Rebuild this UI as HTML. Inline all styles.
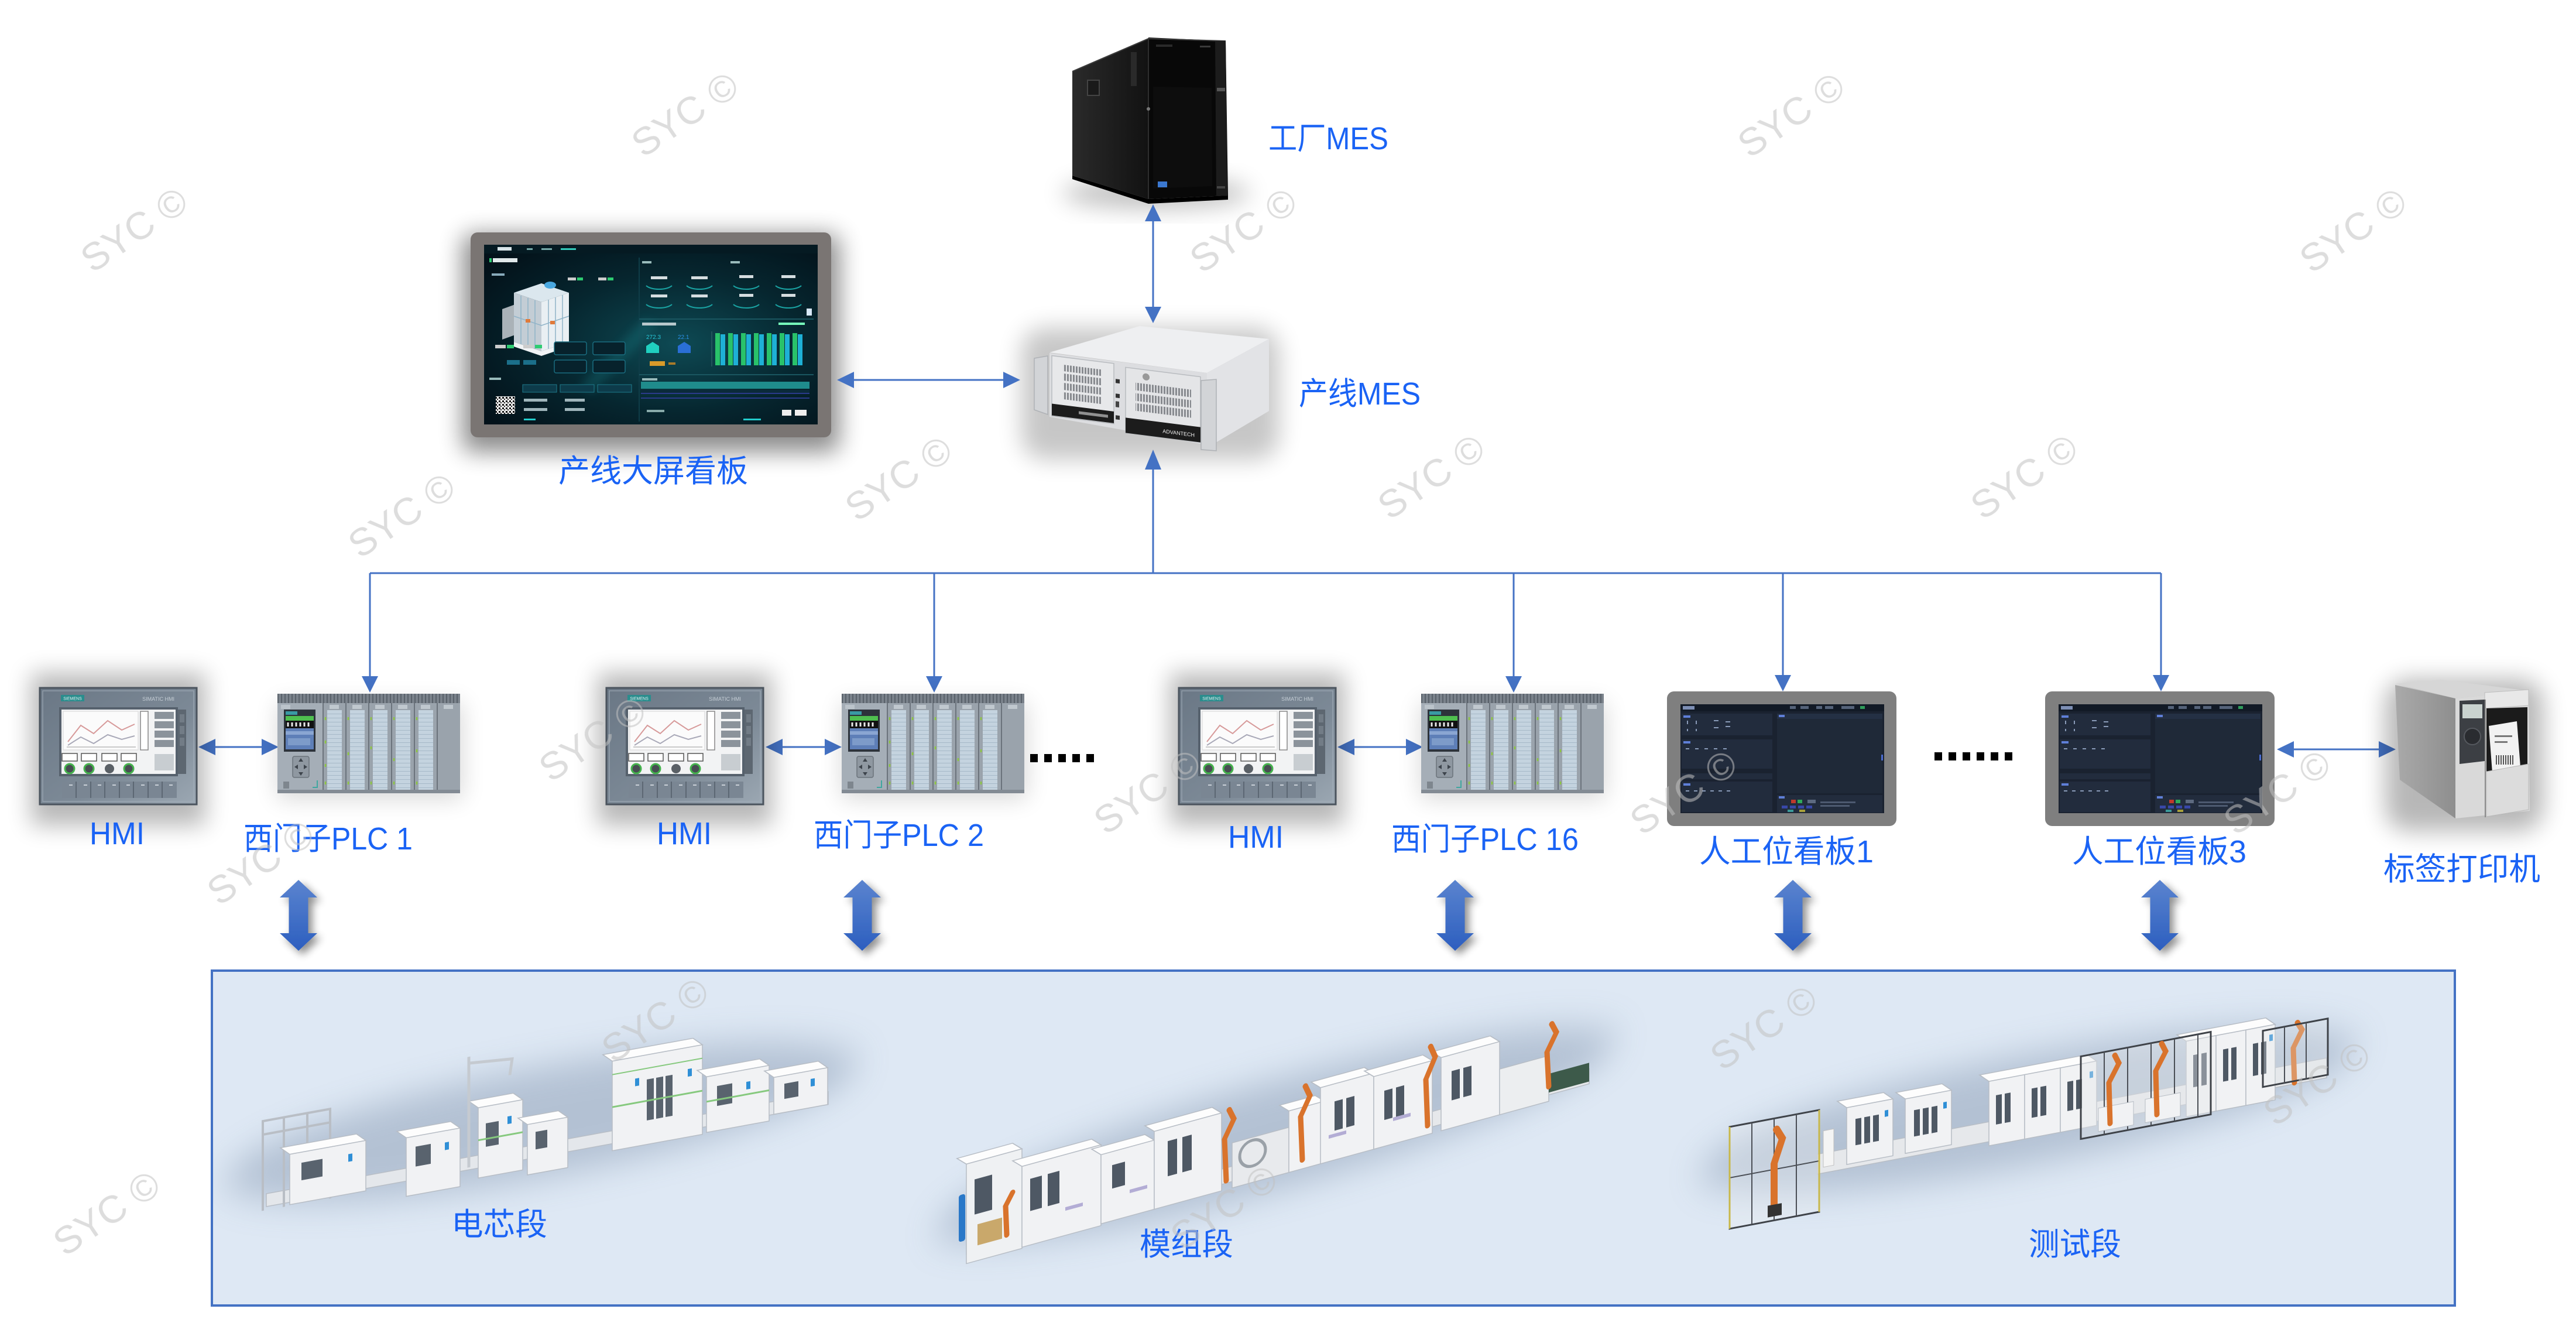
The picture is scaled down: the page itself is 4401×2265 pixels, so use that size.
<!DOCTYPE html>
<html>
<head>
<meta charset="utf-8">
<style>
html,body{margin:0;padding:0;background:#ffffff;}
body{width:4401px;height:2265px;overflow:hidden;}
svg{display:block;}
</style>
</head>
<body>
<svg xmlns="http://www.w3.org/2000/svg" width="4401" height="2265" viewBox="0 0 4401 2265" font-family="'Liberation Sans','Noto Sans CJK SC',sans-serif">
<defs>
  <linearGradient id="fat" x1="0" y1="0" x2="0" y2="1">
    <stop offset="0" stop-color="#5b84cf"/><stop offset="1" stop-color="#2c5ebf"/>
  </linearGradient>
  <linearGradient id="hmiF" x1="0" y1="0" x2="1" y2="1">
    <stop offset="0" stop-color="#6a7785"/><stop offset=".6" stop-color="#7d8a97"/><stop offset="1" stop-color="#9ca8b3"/>
  </linearGradient>
  <linearGradient id="towerSide" x1="0" y1="0" x2="1" y2="0">
    <stop offset="0" stop-color="#2a2a2a"/><stop offset="1" stop-color="#121212"/>
  </linearGradient>
  <linearGradient id="prnSide" x1="0" y1="0" x2="1" y2="0">
    <stop offset="0" stop-color="#aaaaaa"/><stop offset="1" stop-color="#8e8e8e"/>
  </linearGradient>
  <radialGradient id="dashBg" cx=".58" cy=".55" r=".7">
    <stop offset="0" stop-color="#0e4a54"/><stop offset=".55" stop-color="#06262f"/><stop offset="1" stop-color="#03121a"/>
  </radialGradient>
  <pattern id="vent" width="5" height="20" patternUnits="userSpaceOnUse"><rect width="3" height="20" fill="#85888d"/></pattern>
  <pattern id="ridge" width="6" height="16" patternUnits="userSpaceOnUse"><rect width="6" height="16" fill="#7a828b"/><rect width="2" height="16" fill="#59616a"/></pattern>
  <pattern id="plcStrip" width="10" height="7" patternUnits="userSpaceOnUse"><rect width="10" height="7" fill="#c4d3df"/><rect y="6" width="10" height="1" fill="#a6b9c8"/></pattern>
  <pattern id="qr" width="6" height="6" patternUnits="userSpaceOnUse"><rect width="6" height="6" fill="#f0f0f0"/><rect width="3" height="3" fill="#111"/><rect x="3" y="3" width="2" height="2" fill="#222"/></pattern>
  <pattern id="barcode" width="4" height="10" patternUnits="userSpaceOnUse"><rect width="4" height="10" fill="#f2f2f2"/><rect width="2" height="10" fill="#555"/></pattern>
  <clipPath id="boxClip"><rect x="364" y="1660" width="3828" height="568"/></clipPath>
  <filter id="blur8" x="-50%" y="-50%" width="200%" height="200%"><feGaussianBlur stdDeviation="8"/></filter>
  <filter id="blur20" x="-50%" y="-50%" width="200%" height="200%"><feGaussianBlur stdDeviation="20"/></filter>
  <filter id="blur30" x="-50%" y="-80%" width="200%" height="260%"><feGaussianBlur stdDeviation="30"/></filter>
  <filter id="ds" x="-40%" y="-20%" width="190%" height="150%">
    <feGaussianBlur in="SourceAlpha" stdDeviation="7"/>
    <feOffset dx="7" dy="7"/>
    <feComponentTransfer><feFuncA type="linear" slope="0.45"/></feComponentTransfer>
    <feMerge><feMergeNode/><feMergeNode in="SourceGraphic"/></feMerge>
  </filter>

  <g id="fatArrow" filter="url(#ds)">
    <polygon points="0,0 32,30 16.5,30 16.5,91 32,91 0,121 -32,91 -16.5,91 -16.5,30 -32,30" fill="url(#fat)"/>
  </g>

  <g id="hmi">
    <rect x="0" y="0" width="268" height="199" fill="url(#hmiF)" stroke="#4b545e" stroke-width="3"/>
    <rect x="5" y="5" width="258" height="189" fill="none" stroke="#a3aeb9" stroke-width="1.5" opacity=".7"/>
    <rect x="36" y="12" width="40" height="11" fill="#2a8d8d"/>
    <text x="56" y="20.5" font-size="7" fill="#e8f4f4" text-anchor="middle">SIEMENS</text>
    <text x="230" y="22" font-size="9" fill="#c6ced6" text-anchor="end">SIMATIC HMI</text>
    <rect x="33" y="33" width="203" height="118" fill="#56616d"/>
    <rect x="37" y="37" width="195" height="110" fill="#f2f3f4"/>
    <rect x="40" y="40" width="128" height="66" fill="#fbfbfb" stroke="#d6d6d6"/>
    <polyline points="48,92 70,64 92,78 116,56 140,72 162,62" fill="none" stroke="#d79a9a" stroke-width="2"/>
    <polyline points="48,98 70,84 92,95 116,80 140,88 162,82" fill="none" stroke="#a9a9b8" stroke-width="2"/>
    <line x1="46" y1="101" x2="164" y2="101" stroke="#999" stroke-width="1"/>
    <rect x="172" y="40" width="13" height="66" fill="#fff" stroke="#888" stroke-width="1.5"/>
    <rect x="196" y="41" width="33" height="12" fill="#8b939b"/>
    <rect x="196" y="57" width="33" height="12" fill="#8b939b"/>
    <rect x="196" y="73" width="33" height="12" fill="#8b939b"/>
    <rect x="196" y="89" width="33" height="12" fill="#8b939b"/>
    <rect x="38" y="112" width="26" height="13" fill="#fff" stroke="#555" stroke-width="1.5"/>
    <rect x="71" y="112" width="26" height="13" fill="#fff" stroke="#555" stroke-width="1.5"/>
    <rect x="106" y="112" width="26" height="13" fill="#fff" stroke="#555" stroke-width="1.5"/>
    <rect x="139" y="112" width="26" height="13" fill="#fff" stroke="#555" stroke-width="1.5"/>
    <circle cx="51" cy="138" r="8" fill="#474d52" stroke="#45b34d" stroke-width="3"/>
    <circle cx="84" cy="138" r="8" fill="#474d52" stroke="#45b34d" stroke-width="3"/>
    <circle cx="119" cy="138" r="8" fill="#5a6066"/>
    <circle cx="152" cy="138" r="8" fill="#474d52" stroke="#45b34d" stroke-width="3"/>
    <rect x="196" y="113" width="33" height="28" fill="#c8cdd1"/>
    <rect x="236" y="37" width="14" height="110" fill="#5d6771"/>
    <rect x="239" y="45" width="8" height="14" fill="#727c86"/>
    <rect x="239" y="65" width="8" height="14" fill="#727c86"/>
    <rect x="239" y="85" width="8" height="14" fill="#727c86"/>
    <rect x="38" y="160" width="196" height="28" fill="#7a8693"/>
    <path d="M62 160 V188 M87 160 V188 M111 160 V188 M136 160 V188 M160 160 V188 M185 160 V188 M209 160 V188" stroke="#5c6773" stroke-width="2"/>
    <path d="M50 166 h6 M75 166 h6 M99 166 h6 M124 166 h6 M148 166 h6 M173 166 h6 M197 166 h6 M221 166 h6" stroke="#c9d0d7" stroke-width="2"/>
  </g>

  <g id="plc">
    <rect x="0" y="6" width="312" height="164" fill="#9aa3ac"/>
    <rect x="0" y="0" width="312" height="16" fill="url(#ridge)"/>
    <rect x="0" y="16" width="77" height="154" fill="#a5aeb7"/>
    <rect x="6" y="19" width="16" height="7" fill="#bcc4cb"/>
    <rect x="11" y="27" width="54" height="72" fill="#2d333b"/>
    <rect x="14" y="30" width="20" height="6" fill="#3a9aa3"/>
    <rect x="14" y="38" width="48" height="8" fill="#4fbf4f"/>
    <rect x="14" y="46" width="48" height="13" fill="#111"/>
    <path d="M18 49 v7 M25 49 v7 M32 49 v7 M39 49 v7 M46 49 v7 M53 49 v7" stroke="#e8e8e8" stroke-width="3"/>
    <rect x="14" y="59" width="48" height="36" fill="#5e7fb8"/>
    <rect x="14" y="64" width="48" height="6" fill="#8aa6d2"/>
    <rect x="18" y="76" width="38" height="12" fill="#7d9bc9"/>
    <rect x="26" y="107" width="28" height="36" rx="3" fill="#8f98a1" stroke="#6b737b" stroke-width="1.5"/>
    <path d="M40 110 l-4 6 h8 z M40 140 l-4 -6 h8 z M29 125 l6 -4 v8 z M51 125 l-6 -4 v8 z" fill="#3d444c"/>
    <rect x="10" y="150" width="10" height="12" fill="#7e868e"/>
    <path d="M60 160 h8 v-12" stroke="#3fa7a0" stroke-width="2" fill="none"/>
    <rect x="77" y="16" width="2" height="154" fill="#6b737c"/>
    <rect x="116" y="16" width="2" height="154" fill="#6b737c"/>
    <rect x="155" y="16" width="2" height="154" fill="#6b737c"/>
    <rect x="194" y="16" width="2" height="154" fill="#6b737c"/>
    <rect x="233" y="16" width="2" height="154" fill="#6b737c"/>
    <rect x="272" y="16" width="2" height="154" fill="#6b737c"/>
    <rect x="85" y="28" width="25" height="136" fill="url(#plcStrip)"/>
    <rect x="124" y="28" width="25" height="136" fill="url(#plcStrip)"/>
    <rect x="163" y="28" width="25" height="136" fill="url(#plcStrip)"/>
    <rect x="202" y="28" width="25" height="136" fill="url(#plcStrip)"/>
    <rect x="241" y="28" width="25" height="136" fill="url(#plcStrip)"/>
    <rect x="89" y="19" width="16" height="7" fill="#c0c8cf"/>
    <rect x="128" y="19" width="16" height="7" fill="#c0c8cf"/>
    <rect x="167" y="19" width="16" height="7" fill="#c0c8cf"/>
    <rect x="206" y="19" width="16" height="7" fill="#c0c8cf"/>
    <rect x="245" y="19" width="16" height="7" fill="#c0c8cf"/>
    <rect x="284" y="19" width="16" height="7" fill="#c0c8cf"/>
    <path d="M82 40 v5 M82 80 v5 M82 120 v5 M82 150 v5 M121 40 v5 M121 100 v5 M121 150 v5 M160 40 v5 M160 90 v5 M160 150 v5 M199 40 v5 M199 110 v5 M199 150 v5 M238 40 v5 M238 95 v5 M238 150 v5" stroke="#8cc63f" stroke-width="2.5"/>
    <rect x="0" y="164" width="312" height="6" fill="#838b94"/>
  </g>

  <g id="board">
    <rect x="0" y="0" width="392" height="230" rx="12" fill="#7f7f7f"/>
    <rect x="23" y="22" width="348" height="186" fill="#1a2230"/>
    <rect x="23" y="22" width="348" height="12" fill="#121a26"/>
    <rect x="27" y="25" width="20" height="6" fill="#7d8fb5"/>
    <rect x="210" y="25" width="10" height="5" fill="#55637a"/>
    <rect x="228" y="25" width="14" height="5" fill="#55637a"/>
    <rect x="255" y="25" width="10" height="5" fill="#55637a"/>
    <rect x="270" y="25" width="14" height="5" fill="#55637a"/>
    <rect x="298" y="25" width="22" height="5" fill="#55637a"/>
    <rect x="330" y="25" width="8" height="5" fill="#2e9e5b"/>
    <rect x="25" y="38" width="155" height="37" fill="#222c3d"/>
    <rect x="25" y="82" width="155" height="50" fill="#222c3d"/>
    <rect x="25" y="140" width="155" height="10" fill="#222c3d"/>
    <rect x="25" y="154" width="155" height="52" fill="#222c3d"/>
    <rect x="28" y="41" width="12" height="4" fill="#5f7fd8"/>
    <rect x="28" y="85" width="12" height="4" fill="#5f7fd8"/>
    <rect x="28" y="157" width="12" height="4" fill="#5f7fd8"/>
    <path d="M35 50 v6 M50 50 v6 M35 64 v4 M50 64 v4 M80 50 h8 M100 52 h8 M100 60 h8 M80 62 h8" stroke="#8a9bb8" stroke-width="2"/>
    <path d="M32 98 h6 M48 98 h6 M64 98 h6 M80 98 h6 M96 98 h6 M32 170 h6 M46 170 h6 M60 170 h6 M74 170 h6 M88 170 h6 M102 170 h6" stroke="#8a9bb8" stroke-width="2"/>
    <rect x="188" y="38" width="180" height="136" fill="#1f2938"/>
    <rect x="188" y="38" width="180" height="9" fill="#243044"/>
    <rect x="191" y="40" width="10" height="4" fill="#5f7fd8"/>
    <rect x="188" y="177" width="180" height="30" fill="#222c3d"/>
    <rect x="191" y="179" width="10" height="4" fill="#5f7fd8"/>
    <rect x="212" y="185" width="8" height="6" fill="#c0392b"/>
    <rect x="223" y="185" width="8" height="6" fill="#2eaa5a"/>
    <rect x="240" y="185" width="14" height="6" fill="#5d6a80"/>
    <rect x="196" y="195" width="10" height="5" fill="#3848a8"/>
    <rect x="210" y="195" width="10" height="5" fill="#3848a8"/>
    <rect x="224" y="195" width="10" height="5" fill="#3848a8"/>
    <rect x="238" y="195" width="10" height="5" fill="#3848a8"/>
    <rect x="206" y="202" width="10" height="4" fill="#3a9a9a"/>
    <rect x="226" y="202" width="10" height="4" fill="#a9a03a"/>
    <rect x="262" y="188" width="60" height="3" fill="#4d5a70"/>
    <rect x="262" y="194" width="50" height="3" fill="#4d5a70"/>
    <rect x="366" y="108" width="3" height="10" fill="#4a6cd1"/>
  </g>
</defs>

<!-- ================= Tower server (工厂MES) ================= -->
<g>
  <ellipse cx="1975" cy="330" rx="160" ry="26" fill="#000" opacity=".25" filter="url(#blur20)"/>
  <polygon points="1832,122 1962,66 1962,340 1832,300" fill="url(#towerSide)"/>
  <polygon points="1962,64 2094,70 2098,334 1962,340" fill="#080808"/>
  <polyline points="1832,122 1962,66 2094,70" fill="none" stroke="#3c3c3c" stroke-width="2"/>
  <line x1="1962" y1="66" x2="1962" y2="340" stroke="#2e2e2e" stroke-width="2"/>
  <polygon points="2076,70 2094,70 2097,334 2078,335" fill="#1c1c1c"/>
  <rect x="2079" y="150" width="14" height="6" fill="#555"/>
  <rect x="2079" y="318" width="14" height="4" fill="#444"/>
  <polygon points="1970,148 2070,150 2071,318 1970,322" fill="#0d0d0d"/>
  <rect x="1975" y="76" width="28" height="4" fill="#2a2a2a"/>
  <rect x="2050" y="78" width="18" height="3" fill="#3a3a3a"/>
  <rect x="1978" y="310" width="16" height="10" fill="#3b78d0"/>
  <rect x="1858" y="137" width="20" height="26" fill="#1a1a1a" stroke="#444" stroke-width="2"/>
  <rect x="1932" y="89" width="10" height="58" fill="#2a2a2a"/>
  <circle cx="1962" cy="186" r="3" fill="#777"/>
  <polygon points="1832,300 1962,340 2098,334 2098,341 1962,348 1832,306" fill="#000"/>
</g>

<!-- ================= Rack server (产线MES) ================= -->
<g>
  <rect x="1745" y="560" width="440" height="225" rx="40" fill="#000" opacity=".22" filter="url(#blur20)"/>
  <polygon points="1793,602 1947,557 2168,579 2062,637" fill="#eeeff1"/>
  <polygon points="2062,637 2168,579 2168,702 2062,765" fill="#e2e3e6"/>
  <g transform="translate(1793,603) skewY(7.2)">
    <polygon points="0,0 269,0 269,123 0,109" fill="#dcdde0"/>
    <rect x="4" y="4" width="106" height="103" fill="#e7e8ea" stroke="#b8bbbf" stroke-width="1.5"/>
    <rect x="23" y="17" width="65" height="11" fill="url(#vent)"/>
    <rect x="23" y="32" width="65" height="12" fill="url(#vent)"/>
    <rect x="23" y="48" width="65" height="12" fill="url(#vent)"/>
    <rect x="23" y="64" width="65" height="12" fill="url(#vent)"/>
    <rect x="4" y="86" width="106" height="20" fill="#1c1c1c"/>
    <rect x="50" y="93" width="50" height="5" fill="#ddd" opacity=".6"/>
    <rect x="113" y="30" width="7" height="7" fill="#333"/>
    <rect x="113" y="55" width="7" height="7" fill="#333"/>
    <rect x="113" y="68" width="6" height="10" fill="#444"/>
    <rect x="113" y="92" width="7" height="7" fill="#333"/>
    <rect x="130" y="8" width="128" height="112" fill="#e4e5e7" stroke="#b8bbbf" stroke-width="1.5"/>
    <circle cx="165" cy="20" r="6" fill="#999"/>
    <rect x="147" y="32" width="95" height="13" fill="url(#vent)"/>
    <rect x="147" y="50" width="95" height="13" fill="url(#vent)"/>
    <rect x="147" y="67" width="95" height="13" fill="url(#vent)"/>
    <rect x="130" y="94" width="128" height="26" fill="#1c1c1c"/>
    <text x="248" y="112" font-size="9" fill="#eeeeee" text-anchor="end">ADVANTECH</text>
  </g>
  <polygon points="1767,612 1790,608 1790,708 1767,700" fill="#d2d4d7" stroke="#aeb1b5" stroke-width="1.5"/>
  <polygon points="2052,650 2078,648 2078,770 2052,768" fill="#d2d4d7" stroke="#aeb1b5" stroke-width="1.5"/>
</g>

<!-- ================= Dashboard (产线大屏看板) ================= -->
<g>
  <rect x="790" y="400" width="644" height="372" rx="16" fill="#000" opacity=".45" filter="url(#blur20)"/>
  <rect x="804" y="397" width="616" height="350" rx="12" fill="#7a7573"/>
  <rect x="827" y="418" width="570" height="307" fill="url(#dashBg)"/>
  <rect x="827" y="418" width="570" height="15" fill="#051a22"/>
  <rect x="850" y="422" width="24" height="6" fill="#d8e4e8"/>
  <rect x="900" y="424" width="10" height="3" fill="#7aa"/>
  <rect x="925" y="424" width="18" height="3" fill="#7aa"/>
  <rect x="958" y="424" width="26" height="3" fill="#3cb"/>
  <rect x="836" y="441" width="4" height="7" fill="#2ecc71"/>
  <rect x="842" y="441" width="42" height="7" fill="#e0e8ea"/>
  <rect x="1097" y="446" width="16" height="4" fill="#9bb"/>
  <rect x="1248" y="446" width="16" height="4" fill="#9bb"/>
  <line x1="1092" y1="440" x2="1092" y2="720" stroke="#0f3d48" stroke-width="2"/>
  <line x1="1092" y1="545" x2="1390" y2="545" stroke="#1a5660" stroke-width="2"/>
  <line x1="1092" y1="640" x2="1390" y2="640" stroke="#1a5660" stroke-width="2"/>
  <polygon points="990,660 1100,545 1125,555 1012,672" fill="#1c9aa0" opacity=".22" filter="url(#blur8)"/>
  <polygon points="858,528 880,520 880,572 858,580" fill="#aab2b8"/>
  <polygon points="878,500 925,484 972,500 925,516" fill="#dbe7ee"/>
  <polygon points="878,500 925,516 925,600 878,584" fill="#c3cdd5"/>
  <polygon points="925,516 972,500 972,584 925,600" fill="#e9eff3"/>
  <path d="M890 505 V588 M902 509 V592 M914 513 V596 M937 512 V596 M949 508 V592 M961 504 V588 M878 540 L925 556 L972 540" stroke="#8fb3c8" stroke-width="1.5" fill="none"/>
  <rect x="898" y="545" width="8" height="6" fill="#e07a3a"/>
  <rect x="940" y="548" width="8" height="6" fill="#e07a3a"/>
  <ellipse cx="940" cy="487" rx="10" ry="6" fill="#4aa8e0"/>
  <polygon points="878,584 925,600 972,584 972,592 925,608 878,592" fill="#f0f3f5"/>
  <rect x="840" y="467" width="22" height="4" fill="#8ab"/>
  <rect x="970" y="474" width="14" height="5" fill="#ccc"/><rect x="986" y="474" width="10" height="5" fill="#2ecc71"/>
  <rect x="1022" y="474" width="14" height="5" fill="#ccc"/><rect x="1038" y="474" width="10" height="5" fill="#2ecc71"/>
  <rect x="846" y="589" width="18" height="6" fill="#cccccc"/><rect x="866" y="589" width="12" height="6" fill="#2ecc71"/>
  <rect x="894" y="589" width="18" height="6" fill="#cccccc"/><rect x="914" y="589" width="12" height="6" fill="#2ecc71"/>
  <rect x="866" y="615" width="22" height="8" fill="#1b6f8a"/><rect x="894" y="615" width="22" height="8" fill="#1b6f8a"/>
  <rect x="947" y="584" width="55" height="22" rx="3" fill="#07222c" stroke="#1a6d80" stroke-width="1.5"/>
  <rect x="1013" y="584" width="55" height="22" rx="3" fill="#07222c" stroke="#1a6d80" stroke-width="1.5"/>
  <rect x="947" y="615" width="55" height="22" rx="3" fill="#07222c" stroke="#1a6d80" stroke-width="1.5"/>
  <rect x="1013" y="615" width="55" height="22" rx="3" fill="#07222c" stroke="#1a6d80" stroke-width="1.5"/>
  <g stroke="#1aa3a3" stroke-width="2" fill="none">
    <path d="M1104 488 a24 10 0 0 0 44 0"/><path d="M1173 488 a24 10 0 0 0 44 0"/>
    <path d="M1253 488 a24 10 0 0 0 44 0"/><path d="M1325 488 a24 10 0 0 0 44 0"/>
    <path d="M1104 520 a24 10 0 0 0 44 0"/><path d="M1173 520 a24 10 0 0 0 44 0"/>
    <path d="M1253 520 a24 10 0 0 0 44 0"/><path d="M1325 520 a24 10 0 0 0 44 0"/>
  </g>
  <g fill="#d5dde0">
    <rect x="1112" y="472" width="28" height="5"/><rect x="1181" y="472" width="28" height="5"/>
    <rect x="1263" y="470" width="24" height="5"/><rect x="1335" y="470" width="24" height="5"/>
    <rect x="1112" y="503" width="28" height="5"/><rect x="1181" y="503" width="28" height="5"/>
    <rect x="1263" y="502" width="24" height="5"/><rect x="1335" y="502" width="24" height="5"/>
  </g>
  <rect x="1378" y="527" width="9" height="12" fill="#d8e8f8"/>
  <rect x="1097" y="551" width="58" height="5" fill="#b8c8cc"/>
  <rect x="1330" y="551" width="45" height="4" fill="#7fb"/>
  <g fill="#29c26a">
    <rect x="1222" y="569" width="8" height="55"/><rect x="1244" y="569" width="8" height="55"/>
    <rect x="1266" y="569" width="8" height="55"/><rect x="1288" y="569" width="8" height="55"/>
    <rect x="1310" y="569" width="8" height="55"/><rect x="1332" y="569" width="8" height="55"/>
    <rect x="1354" y="569" width="8" height="55"/>
  </g>
  <g fill="#1eb0d6">
    <rect x="1231" y="571" width="8" height="53"/><rect x="1253" y="571" width="8" height="53"/>
    <rect x="1275" y="571" width="8" height="53"/><rect x="1297" y="571" width="8" height="53"/>
    <rect x="1319" y="571" width="8" height="53"/><rect x="1341" y="571" width="8" height="53"/>
    <rect x="1363" y="571" width="8" height="53"/>
  </g>
  <line x1="1216" y1="566" x2="1216" y2="626" stroke="#3a6a70" stroke-width="1"/>
  <text x="1104" y="579" font-size="10" fill="#27c6d6">272.3</text>
  <text x="1158" y="579" font-size="10" fill="#2a8fe6">22.1</text>
  <polygon points="1104,591 1115,584 1126,591 1126,603 1104,603" fill="#20d0c0"/>
  <polygon points="1158,591 1169,584 1180,591 1180,603 1158,603" fill="#2a6fd6"/>
  <rect x="1110" y="617" width="26" height="8" fill="#d89a2a"/>
  <rect x="1142" y="619" width="12" height="4" fill="#a87a2a"/>
  <rect x="1097" y="646" width="26" height="4" fill="#9bb"/>
  <rect x="1095" y="652" width="288" height="12" fill="#1f8c8c"/>
  <rect x="1095" y="666" width="288" height="5" fill="#0b2a3a"/>
  <rect x="1095" y="671" width="288" height="2" fill="#2a3a8a"/>
  <rect x="1095" y="679" width="288" height="2" fill="#2a3a8a"/>
  <rect x="1105" y="700" width="30" height="4" fill="#8aa"/>
  <rect x="1336" y="700" width="16" height="10" fill="#eeeeee"/>
  <rect x="1358" y="700" width="20" height="10" fill="#eeeeee"/>
  <rect x="836" y="645" width="20" height="4" fill="#9bb"/>
  <rect x="893" y="657" width="58" height="13" fill="#0d3b4a" stroke="#1e7b8c"/>
  <rect x="957" y="657" width="58" height="13" fill="#0d3b4a" stroke="#1e7b8c"/>
  <rect x="1021" y="657" width="58" height="13" fill="#0d3b4a" stroke="#1e7b8c"/>
  <rect x="847" y="677" width="33" height="30" fill="url(#qr)"/>
  <rect x="895" y="681" width="40" height="5" fill="#9fb5bb"/><rect x="965" y="681" width="34" height="5" fill="#9fb5bb"/>
  <rect x="895" y="697" width="40" height="5" fill="#9fb5bb"/><rect x="965" y="697" width="34" height="5" fill="#9fb5bb"/>
  <rect x="895" y="715" width="20" height="3" fill="#2cc"/><rect x="1270" y="715" width="30" height="3" fill="#2cc"/>
</g>

<!-- ================= Thin connectors ================= -->
<g stroke="#4472c4" stroke-width="3" fill="none">
  <line x1="1970" y1="376" x2="1970" y2="526"/>
  <line x1="1456" y1="649" x2="1717" y2="649"/>
  <line x1="1970" y1="979" x2="1970" y2="800"/>
  <line x1="632" y1="979" x2="3692" y2="979"/>
  <line x1="632" y1="979" x2="632" y2="1157"/>
  <line x1="1596" y1="979" x2="1596" y2="1157"/>
  <line x1="2586" y1="979" x2="2586" y2="1157"/>
  <line x1="3046" y1="979" x2="3046" y2="1155"/>
  <line x1="3692" y1="979" x2="3692" y2="1155"/>
  <line x1="366" y1="1276" x2="449" y2="1276"/>
  <line x1="1335" y1="1276" x2="1411" y2="1276"/>
  <line x1="2312" y1="1276" x2="2404" y2="1276"/>
  <line x1="3917" y1="1280" x2="4066" y2="1280"/>
</g>
<g fill="#4472c4">
  <polygon points="1970,349 1956,378 1984,378"/>
  <polygon points="1970,552 1956,524 1984,524"/>
  <polygon points="1430,649 1459,635 1459,663"/>
  <polygon points="1743,649 1714,635 1714,663"/>
  <polygon points="1970,768 1956,802 1984,802"/>
  <polygon points="632,1183 618,1155 646,1155"/>
  <polygon points="1596,1183 1582,1155 1610,1155"/>
  <polygon points="2586,1183 2572,1155 2600,1155"/>
  <polygon points="3046,1181 3032,1153 3060,1153"/>
  <polygon points="3692,1181 3678,1153 3706,1153"/>
  <polygon points="339,1276 368,1262 368,1290"/>
  <polygon points="476,1276 447,1262 447,1290"/>
  <polygon points="1308,1276 1337,1262 1337,1290"/>
  <polygon points="1438,1276 1409,1262 1409,1290"/>
  <polygon points="2285,1276 2314,1262 2314,1290"/>
  <polygon points="2431,1276 2402,1262 2402,1290"/>
  <polygon points="3890,1280 3919,1266 3919,1294"/>
  <polygon points="4093,1280 4064,1266 4064,1294"/>
</g>

<!-- ================= HMIs and PLCs ================= -->
<rect x="53" y="1150" width="298" height="260" fill="#000" opacity=".28" filter="url(#blur20)"/>
<rect x="1021" y="1150" width="298" height="260" fill="#000" opacity=".28" filter="url(#blur20)"/>
<rect x="1999" y="1150" width="298" height="260" fill="#000" opacity=".28" filter="url(#blur20)"/>
<rect x="474" y="1200" width="316" height="165" fill="#000" opacity=".15" filter="url(#blur20)"/>
<rect x="1438" y="1200" width="316" height="165" fill="#000" opacity=".15" filter="url(#blur20)"/>
<rect x="2427" y="1200" width="316" height="165" fill="#000" opacity=".15" filter="url(#blur20)"/>
<use href="#hmi" x="68" y="1175"/>
<use href="#hmi" x="1036" y="1175"/>
<use href="#hmi" x="2014" y="1175"/>
<use href="#plc" x="474" y="1185"/>
<use href="#plc" x="1438" y="1185"/>
<use href="#plc" x="2428" y="1185"/>

<!-- ================= Boards ================= -->
<use href="#board" x="2848" y="1181"/>
<use href="#board" x="3494" y="1181"/>

<g fill="#000">
  <rect x="1760" y="1288" width="13" height="14"/><rect x="1784" y="1288" width="13" height="14"/>
  <rect x="1808" y="1288" width="13" height="14"/><rect x="1832" y="1288" width="13" height="14"/>
  <rect x="1856" y="1288" width="13" height="14"/>
  <rect x="3305" y="1285" width="13" height="14"/><rect x="3329" y="1285" width="13" height="14"/>
  <rect x="3353" y="1285" width="13" height="14"/><rect x="3377" y="1285" width="13" height="14"/>
  <rect x="3401" y="1285" width="13" height="14"/><rect x="3425" y="1285" width="13" height="14"/>
</g>

<!-- ================= Printer ================= -->
<g>
  <rect x="4075" y="1160" width="270" height="260" rx="40" fill="#000" opacity=".28" filter="url(#blur20)"/>
  <polygon points="4092,1170 4195,1193 4195,1398 4100,1332" fill="url(#prnSide)"/>
  <polygon points="4092,1168 4170,1161 4320,1180 4195,1193" fill="#d6d6d6"/>
  <polygon points="4195,1193 4320,1180 4322,1385 4195,1398" fill="#d9d9d9"/>
  <polygon points="4245,1183 4320,1178 4320,1205 4245,1210" fill="#e8e8e8" stroke="#bdbdbd"/>
  <polygon points="4202,1197 4245,1195 4245,1300 4202,1305" fill="#3c3f44"/>
  <rect x="4207" y="1203" width="34" height="24" fill="#c9d2cf"/>
  <circle cx="4224" cy="1258" r="14" fill="#2a2c30" stroke="#55585e" stroke-width="2"/>
  <polygon points="4248,1210 4318,1208 4318,1305 4248,1318" fill="#1b1b1b"/>
  <polygon points="4252,1240 4300,1232 4306,1310 4258,1320" fill="#f2f2f2"/>
  <rect x="4262" y="1290" width="34" height="16" fill="url(#barcode)"/>
  <rect x="4262" y="1256" width="30" height="3" fill="#777"/>
  <rect x="4262" y="1266" width="22" height="3" fill="#777"/>
  <polygon points="4248,1318 4320,1305 4320,1383 4248,1395" fill="#dcdcdc" stroke="#b8b8b8"/>
  <line x1="4246" y1="1195" x2="4246" y2="1396" stroke="#8a8a8a" stroke-width="2"/>
</g>

<!-- ================= Fat arrows ================= -->
<use href="#fatArrow" x="510" y="1503"/>
<use href="#fatArrow" x="1473" y="1503"/>
<use href="#fatArrow" x="2486" y="1503"/>
<use href="#fatArrow" x="3063" y="1503"/>
<use href="#fatArrow" x="3690" y="1503"/>

<!-- ================= Bottom box ================= -->
<rect x="362" y="1658" width="3832" height="572" fill="#dee8f4" stroke="#4472c4" stroke-width="4"/>

<g clip-path="url(#boxClip)">
<!-- Line 1 电芯段 -->
<g transform="translate(455,2057) skewY(-10.3)">
  <ellipse cx="470" cy="-55" rx="540" ry="95" fill="#6f84a0" opacity=".38" filter="url(#blur30)"/>
  <rect x="0" y="-18" width="960" height="22" fill="#e4e7eb" stroke="#b8bec6" stroke-width="1.5"/>
  <path d="M-6 10 V-143 H109 V10 M30 -143 V10 M-6 -120 H109 M70 -143 V-20" stroke="#b9bec5" stroke-width="4" fill="none"/>
  <g stroke="#b7bdc5" stroke-width="1.5">
    <polygon points="40,-78 170,-78 154,-92 24,-92" fill="#fdfdfd"/>
    <rect x="40" y="-78" width="130" height="86" fill="#f1f2f4"/>
    <polygon points="239,-70 331,-70 315,-84 223,-84" fill="#fdfdfd"/>
    <rect x="239" y="-70" width="92" height="100" fill="#f1f2f4"/>
    <polygon points="362,-99 438,-99 422,-113 346,-113" fill="#fdfdfd"/>
    <rect x="362" y="-99" width="76" height="120" fill="#f1f2f4"/>
    <polygon points="446,-55 515,-55 499,-69 430,-69" fill="#fdfdfd"/>
    <rect x="446" y="-55" width="69" height="86" fill="#f1f2f4"/>
    <polygon points="591,-137 745,-137 729,-151 575,-151" fill="#fdfdfd"/>
    <rect x="591" y="-137" width="154" height="153" fill="#f1f2f4"/>
    <polygon points="752,-81 859,-81 843,-95 736,-95" fill="#fdfdfd"/>
    <rect x="752" y="-81" width="107" height="95" fill="#f1f2f4"/>
    <polygon points="867,-59 959,-59 943,-73 851,-73" fill="#fdfdfd"/>
    <rect x="867" y="-59" width="92" height="63" fill="#f1f2f4"/>
  </g>
  <g fill="#59636e">
    <rect x="60" y="-60" width="36" height="30"/><rect x="255" y="-52" width="26" height="34"/>
    <rect x="375" y="-70" width="22" height="40"/><rect x="460" y="-40" width="20" height="30"/>
    <rect x="650" y="-95" width="12" height="70"/><rect x="666" y="-95" width="12" height="70"/><rect x="682" y="-95" width="12" height="70"/>
    <rect x="770" y="-62" width="26" height="34"/><rect x="885" y="-45" width="24" height="26"/>
  </g>
  <g fill="#2f8fd6">
    <rect x="140" y="-60" width="7" height="13"/><rect x="305" y="-50" width="7" height="13"/>
    <rect x="412" y="-75" width="7" height="13"/><rect x="630" y="-100" width="7" height="13"/>
    <rect x="720" y="-100" width="7" height="13"/><rect x="820" y="-60" width="7" height="13"/><rect x="930" y="-45" width="7" height="13"/>
  </g>
  <g fill="#86c97e">
    <rect x="362" y="-45" width="76" height="3"/><rect x="591" y="-60" width="154" height="3"/>
    <rect x="752" y="-40" width="107" height="3"/><rect x="591" y="-115" width="154" height="2"/>
  </g>
  <path d="M346 0 V-189 M346 -178 L420 -172 L416 -145" stroke="#c5cad0" stroke-width="5" fill="none"/>
</g>

<!-- Line 2 模组段 -->
<g transform="translate(1700,2125) skewY(-15.3)">
  <ellipse cx="480" cy="-55" rx="580" ry="95" fill="#6f84a0" opacity=".38" filter="url(#blur30)"/>
  <rect x="-49" y="-22" width="1064" height="26" fill="#e6e8eb" stroke="#b8bec6" stroke-width="1.5"/>
  <g stroke="#b7bdc5" stroke-width="1.5">
    <polygon points="-49,-150 46,-150 30,-164 -65,-164" fill="#fdfdfd"/>
    <rect x="-49" y="-150" width="95" height="170" fill="#eff1f3"/>
    <polygon points="46,-120 181,-120 165,-134 30,-134" fill="#fdfdfd"/>
    <rect x="46" y="-120" width="135" height="138" fill="#f1f2f4"/>
    <polygon points="181,-103 272,-103 256,-117 165,-117" fill="#fdfdfd"/>
    <rect x="181" y="-103" width="91" height="118" fill="#f1f2f4"/>
    <polygon points="272,-118 387,-118 371,-132 256,-132" fill="#fdfdfd"/>
    <rect x="272" y="-118" width="115" height="133" fill="#f1f2f4"/>
    <rect x="405" y="-62" width="97" height="77" fill="#e8eaed"/>
    <polygon points="502,-90 563,-90 547,-104 486,-104" fill="#fdfdfd"/>
    <rect x="502" y="-90" width="61" height="105" fill="#f1f2f4"/>
    <polygon points="556,-115 647,-115 631,-129 540,-129" fill="#fdfdfd"/>
    <rect x="556" y="-115" width="91" height="130" fill="#f1f2f4"/>
    <polygon points="647,-109 747,-109 731,-123 631,-123" fill="#fdfdfd"/>
    <rect x="647" y="-109" width="100" height="124" fill="#f1f2f4"/>
    <polygon points="762,-110 862,-110 846,-124 746,-124" fill="#fdfdfd"/>
    <rect x="762" y="-110" width="100" height="125" fill="#f1f2f4"/>
    <rect x="862" y="-63" width="84" height="78" fill="#eceef0"/>
  </g>
  <rect x="946" y="-32" width="69" height="32" fill="#3d5a4a"/>
  <g fill="#4e5864">
    <rect x="-35" y="-120" width="30" height="60"/><rect x="60" y="-95" width="20" height="55"/><rect x="90" y="-95" width="20" height="55"/>
    <rect x="200" y="-80" width="22" height="40"/><rect x="295" y="-95" width="16" height="60"/><rect x="320" y="-95" width="16" height="60"/>
    <rect x="580" y="-85" width="14" height="50"/><rect x="600" y="-85" width="14" height="50"/>
    <rect x="665" y="-80" width="14" height="50"/><rect x="685" y="-80" width="14" height="50"/>
    <rect x="780" y="-82" width="14" height="50"/><rect x="800" y="-82" width="14" height="50"/>
  </g>
  <g fill="#8a7fc0" opacity=".6">
    <rect x="120" y="-30" width="30" height="6"/><rect x="230" y="-30" width="30" height="6"/><rect x="570" y="-30" width="30" height="6"/><rect x="680" y="-30" width="30" height="6"/>
  </g>
  <circle cx="440" cy="-35" r="22" fill="none" stroke="#9aa1a8" stroke-width="5"/>
  <g stroke="#d9732c" stroke-width="9" fill="none" stroke-linecap="round">
    <path d="M395 0 L392 -72 L408 -102 L400 -120"/>
    <path d="M525 0 L522 -75 L538 -106 L530 -125"/>
    <path d="M739 0 L736 -80 L752 -114 L744 -134"/>
    <path d="M946 -10 L943 -70 L959 -99 L951 -116"/>
    <path d="M20 -10 L18 -60 L30 -80"/>
  </g>
  <rect x="-62" y="-100" width="11" height="80" rx="4" fill="#2a78c8"/>
  <rect x="-30" y="-42" width="42" height="36" fill="#c9a86b"/>
</g>

<!-- Line 3 测试段 -->
<g transform="translate(2965,2020) skewY(-10.7)">
  <ellipse cx="500" cy="-30" rx="560" ry="95" fill="#6f84a0" opacity=".38" filter="url(#blur30)"/>
  <rect x="140" y="-22" width="870" height="34" fill="#e6e8eb" stroke="#b8bec6" stroke-width="1.5"/>
  <rect x="-10" y="-97" width="153" height="174" fill="#eceff2" fill-opacity=".35" stroke="#3e4248" stroke-width="3"/>
  <path d="M28 -97 V77 M66 -97 V77 M104 -97 V77 M-10 -10 H143" stroke="#4a4e55" stroke-width="2"/>
  <path d="M-10 -97 V77 M143 -97 V77" stroke="#c8b84a" stroke-width="3"/>
  <path d="M66 60 L66 -20 L80 -60 L70 -78" stroke="#d9732c" stroke-width="12" fill="none" stroke-linecap="round"/>
  <rect x="55" y="50" width="24" height="20" fill="#333"/>
  <rect x="150" y="-60" width="18" height="62" fill="#f4f4f4" stroke="#c0c0c0"/>
  <g stroke="#b7bdc5" stroke-width="1.5">
    <polygon points="190,-92 269,-92 253,-106 174,-106" fill="#fdfdfd"/>
    <rect x="190" y="-92" width="79" height="97" fill="#f1f2f4"/>
    <polygon points="290,-88 369,-88 353,-102 274,-102" fill="#fdfdfd"/>
    <rect x="290" y="-88" width="79" height="93" fill="#f1f2f4"/>
    <polygon points="433,-91 617,-91 601,-105 417,-105" fill="#fdfdfd"/>
    <rect x="433" y="-91" width="61" height="110" fill="#f1f2f4"/>
    <rect x="494" y="-91" width="61" height="110" fill="#f1f2f4"/>
    <rect x="555" y="-91" width="62" height="110" fill="#f1f2f4"/>
    <polygon points="770,-96 922,-96 906,-110 754,-110" fill="#fdfdfd"/>
    <rect x="770" y="-96" width="51" height="129" fill="#f1f2f4"/>
    <rect x="821" y="-96" width="51" height="129" fill="#f1f2f4"/>
    <rect x="872" y="-96" width="50" height="129" fill="#f1f2f4"/>
  </g>
  <g fill="#4e5864">
    <rect x="205" y="-70" width="10" height="45"/><rect x="220" y="-70" width="10" height="45"/><rect x="235" y="-70" width="10" height="45"/>
    <rect x="305" y="-66" width="10" height="45"/><rect x="320" y="-66" width="10" height="45"/><rect x="335" y="-66" width="10" height="45"/>
    <rect x="445" y="-65" width="10" height="50"/><rect x="460" y="-65" width="10" height="50"/>
    <rect x="506" y="-65" width="10" height="50"/><rect x="521" y="-65" width="10" height="50"/>
    <rect x="567" y="-65" width="10" height="50"/><rect x="582" y="-65" width="10" height="50"/>
    <rect x="782" y="-70" width="9" height="55"/><rect x="796" y="-70" width="9" height="55"/>
    <rect x="833" y="-70" width="9" height="55"/><rect x="847" y="-70" width="9" height="55"/>
    <rect x="884" y="-70" width="9" height="55"/><rect x="898" y="-70" width="9" height="55"/>
  </g>
  <g fill="#2f8fd6">
    <rect x="255" y="-75" width="6" height="11"/><rect x="355" y="-70" width="6" height="11"/><rect x="605" y="-75" width="6" height="11"/><rect x="912" y="-80" width="6" height="11"/>
  </g>
  <rect x="590" y="-104" width="222" height="141" fill="#e6e9ec" fill-opacity=".4" stroke="#3e4248" stroke-width="3"/>
  <path d="M630 -104 V37 M670 -104 V37 M710 -104 V37 M750 -104 V37 M790 -104 V37" stroke="#4a4e55" stroke-width="2"/>
  <rect x="620" y="-10" width="60" height="40" fill="#f1f2f4" stroke="#b7bdc5"/>
  <rect x="700" y="-10" width="60" height="40" fill="#f1f2f4" stroke="#b7bdc5"/>
  <g stroke="#d9732c" stroke-width="9" fill="none" stroke-linecap="round">
    <path d="M640 20 L638 -50 L655 -80 L648 -95"/>
    <path d="M720 20 L718 -55 L735 -85 L728 -100"/>
    <path d="M955 10 L953 -50 L968 -78 L960 -92"/>
  </g>
  <rect x="901" y="-89" width="111" height="96" fill="#e6e9ec" fill-opacity=".3" stroke="#3e4248" stroke-width="3"/>
  <path d="M938 -89 V7 M975 -89 V7" stroke="#4a4e55" stroke-width="2"/>
</g>
</g>

<!-- ================= Labels ================= -->
<g fill="#1a63f5" font-size="54">
  <text x="2167" y="255" textLength="205" lengthAdjust="spacingAndGlyphs">工厂MES</text>
  <text x="2219" y="691" textLength="208" lengthAdjust="spacingAndGlyphs">产线MES</text>
  <text x="954" y="823" textLength="324" lengthAdjust="spacingAndGlyphs">产线大屏看板</text>
  <text x="153" y="1442" textLength="94" lengthAdjust="spacingAndGlyphs">HMI</text>
  <text x="416" y="1451" textLength="289" lengthAdjust="spacingAndGlyphs">西门子PLC 1</text>
  <text x="1122" y="1442" textLength="94" lengthAdjust="spacingAndGlyphs">HMI</text>
  <text x="1390" y="1445" textLength="291" lengthAdjust="spacingAndGlyphs">西门子PLC 2</text>
  <text x="2098" y="1448" textLength="95" lengthAdjust="spacingAndGlyphs">HMI</text>
  <text x="2377" y="1452" textLength="320" lengthAdjust="spacingAndGlyphs">西门子PLC 16</text>
  <text x="2903" y="1473" textLength="298" lengthAdjust="spacingAndGlyphs">人工位看板1</text>
  <text x="3540" y="1473" textLength="298" lengthAdjust="spacingAndGlyphs">人工位看板3</text>
  <text x="4072" y="1503" textLength="268" lengthAdjust="spacingAndGlyphs">标签打印机</text>
  <text x="771" y="2110" textLength="164" lengthAdjust="spacingAndGlyphs">电芯段</text>
  <text x="1947" y="2144" textLength="160" lengthAdjust="spacingAndGlyphs">模组段</text>
  <text x="3466" y="2144" textLength="158" lengthAdjust="spacingAndGlyphs">测试段</text>
</g>

<!-- ================= Watermarks ================= -->
<g fill="#c2c2c2" opacity=".55" font-size="66" text-anchor="middle" font-family="'Liberation Sans',sans-serif">
  <text transform="translate(1170,195) rotate(-34)" y="23">SYC ©</text>
  <text transform="translate(229,392) rotate(-34)" y="23">SYC ©</text>
  <text transform="translate(2124,393) rotate(-34)" y="23">SYC ©</text>
  <text transform="translate(3060,196) rotate(-34)" y="23">SYC ©</text>
  <text transform="translate(4020,393) rotate(-34)" y="23">SYC ©</text>
  <text transform="translate(686,880) rotate(-34)" y="23">SYC ©</text>
  <text transform="translate(1535,817) rotate(-34)" y="23">SYC ©</text>
  <text transform="translate(2445,814) rotate(-34)" y="23">SYC ©</text>
  <text transform="translate(3458,814) rotate(-34)" y="23">SYC ©</text>
  <text transform="translate(1012,1262) rotate(-34)" y="23">SYC ©</text>
  <text transform="translate(445,1473) rotate(-34)" y="23">SYC ©</text>
  <text transform="translate(1960,1352) rotate(-34)" y="23">SYC ©</text>
  <text transform="translate(2876,1353) rotate(-34)" y="23">SYC ©</text>
  <text transform="translate(3890,1353) rotate(-34)" y="23">SYC ©</text>
  <text transform="translate(1119,1742) rotate(-34)" y="23">SYC ©</text>
  <text transform="translate(2091,2062) rotate(-34)" y="23">SYC ©</text>
  <text transform="translate(3013,1755) rotate(-34)" y="23">SYC ©</text>
  <text transform="translate(3958,1850) rotate(-34)" y="23">SYC ©</text>
  <text transform="translate(182,2072) rotate(-34)" y="23">SYC ©</text>
</g>
</svg>
</body>
</html>
